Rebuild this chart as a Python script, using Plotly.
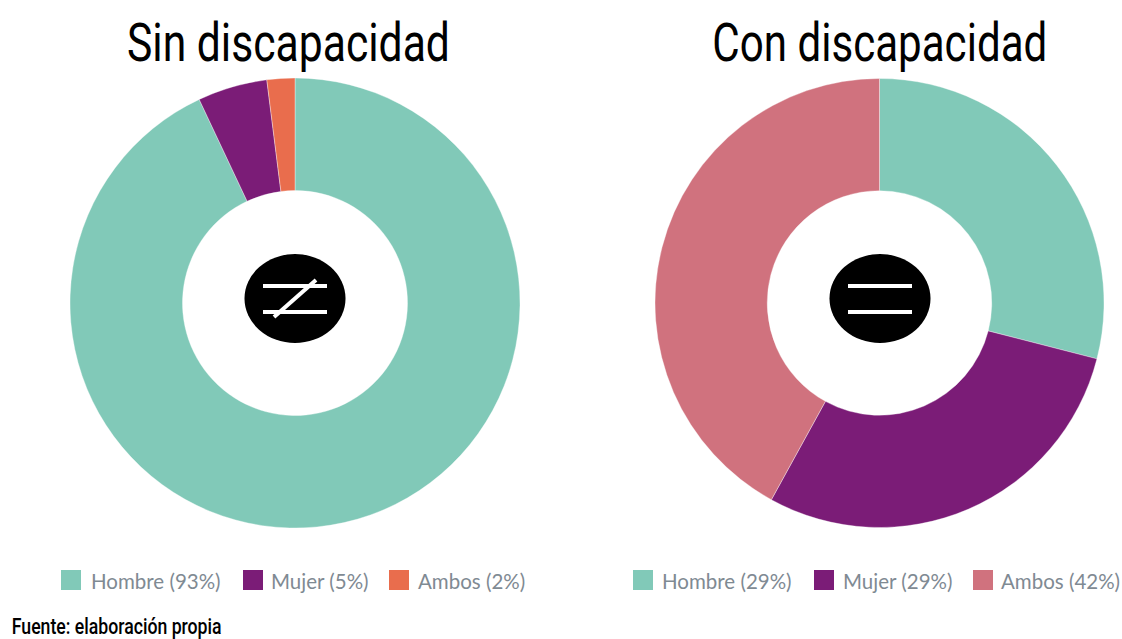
import plotly.graph_objects as go

W, H = 1122, 639
categories = ["Hombre", "Mujer", "Ambos"]
sin_values = [93, 5, 2]
con_values = [29, 29, 42]
sin_colors = ["#81C9B8", "#7B1C77", "#E96D4D"]
con_colors = ["#81C9B8", "#7B1C77", "#D0727E"]
titles = ["Sin discapacidad", "Con discapacidad"]
source = "Fuente: elaboración propia"

TITLE_FONT = "Roboto"

def px(x): return x / W
def py(y): return 1 - y / H

fig = go.Figure()
for vals, cols, (x0, x1) in [(sin_values, sin_colors, (70, 520)), (con_values, con_colors, (655, 1104))]:
    fig.add_trace(go.Pie(
        labels=categories, values=vals, hole=0.5, sort=False, direction="clockwise", rotation=0,
        marker=dict(colors=cols, line=dict(color="rgba(255,255,255,0.6)", width=0.6)),
        textinfo="none", showlegend=False,
        domain=dict(x=[px(x0), px(x1)], y=[py(528), py(78)]),
    ))

shapes, ann = [], []
def line(x0, y0, x1, y1):
    shapes.append(dict(type="line", xref="paper", yref="paper", x0=px(x0), y0=py(y0), x1=px(x1), y1=py(y1),
                       line=dict(color="white", width=4)))
for cx in (295, 880):
    shapes.append(dict(type="circle", xref="paper", yref="paper", x0=px(cx-50.5), x1=px(cx+50.5),
                       y0=py(343), y1=py(254), fillcolor="black", line=dict(width=0)))
    line(cx-32, 286, cx+32, 286)
    line(cx-32, 312, cx+32, 312)
line(274, 317, 316, 280)

for vals, cols, sq_xs, tx_xs in [
    (sin_values, sin_colors, (61, 243, 389), (89, 269, 416)),
    (con_values, con_colors, (633, 814, 973), (660, 841, 999)),
]:
    for c, v, col, sx, tx in zip(categories, vals, cols, sq_xs, tx_xs):
        shapes.append(dict(type="rect", xref="paper", yref="paper", x0=px(sx), x1=px(sx+20),
                           y0=py(590), y1=py(570), fillcolor=col, line=dict(width=0)))
        ann.append(dict(text=f"{c} ({v}%)", xref="paper", yref="paper", x=px(tx), y=py(581),
                        xanchor="left", yanchor="middle", showarrow=False,
                        font=dict(family="Lato", size=20.5, color="#7F8A93")))

for t, cx in zip(titles, (288.5, 879.5)):
    ann.append(dict(text=t, xref="paper", yref="paper", x=px(cx), y=py(42), xanchor="center", yanchor="middle",
                    showarrow=False, font=dict(family=TITLE_FONT, size=54, color="black", weight=400)))
ann.append(dict(text=source, xref="paper", yref="paper", x=px(116), y=py(626), xanchor="center", yanchor="middle",
                showarrow=False, font=dict(family=TITLE_FONT, size=22, color="black", weight=500)))

fig.update_layout(width=W, height=H, margin=dict(l=0, r=0, t=0, b=0), paper_bgcolor="white",
                  shapes=shapes, annotations=ann)

# the reference's condensed typeface is not installed: squeeze real text to the measured widths
post = """
document.body.style.margin='0';document.body.style.overflow='hidden';
var widths={'Sin discapacidad':323,'Con discapacidad':335,'Fuente: elaboración propia':210};
document.querySelectorAll('text.annotation-text').forEach(function(t){
  var w=widths[t.textContent];
  if(w){
    var b=t.getBBox(),c=b.x+b.width/2,s=w/b.width;
    t.setAttribute('transform','translate('+c+',0) scale('+s+',1) translate('+(-c)+',0)');
  }
});
"""
fig.write_html("out.html", config={"displayModeBar": False}, post_script=post)
